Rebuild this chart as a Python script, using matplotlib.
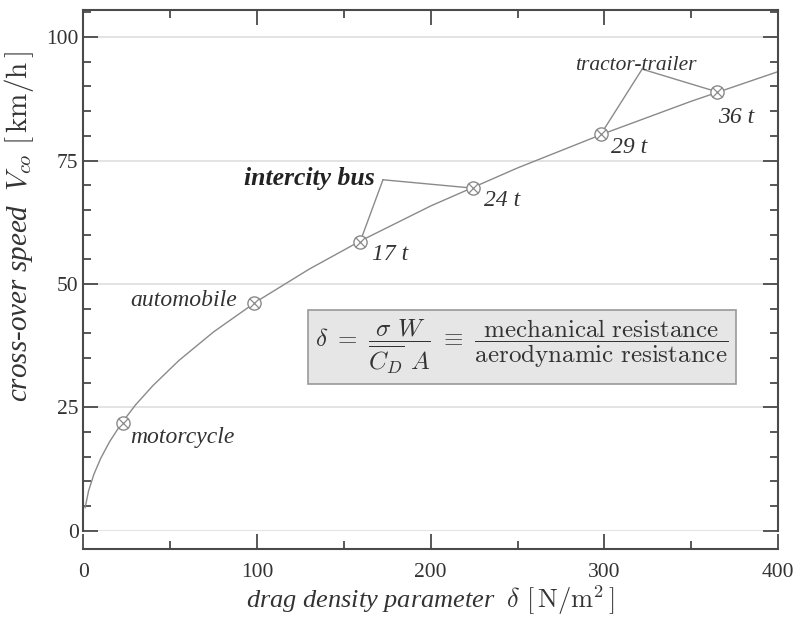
import numpy as np
import matplotlib
matplotlib.use("Agg")
import matplotlib.pyplot as plt
from matplotlib.ticker import MultipleLocator

plt.rcParams['font.family'] = ['Liberation Serif', 'DejaVu Serif']
plt.rcParams['mathtext.fontset'] = 'cm'

# curve: drag density delta [N/m^2] vs cross-over speed [km/h]
curve_delta = [1, 3, 6, 10, 15, 22, 30, 40, 55, 75, 100, 130, 160, 200, 250, 300, 350, 400]
curve_speed = [4.7, 8.1, 11.4, 14.7, 18.0, 21.8, 25.5, 29.4, 34.5, 40.3, 46.5,
               53.0, 58.8, 65.8, 73.5, 80.5, 87.0, 93.0]

# marked vehicles
veh_delta = [22.8, 98.2, 159.3, 224.4, 298.1, 364.9]
veh_speed = [21.9, 46.2, 58.5, 69.4, 80.4, 88.9]

weights = ['17 t', '24 t', '29 t', '36 t']
weight_pos = [(166.2, 55.9), (230.7, 67.0), (303.9, 77.7), (365.5, 83.8)]

line_col = '#8a8a8a'
axis_col = '#4a4a4a'
txt_col = '#333333'

fig = plt.figure(figsize=(7.94, 6.18), dpi=100)
ax = fig.add_axes([0.105, 0.141, 0.875, 0.843])

for g in [0, 25, 50, 75, 100]:
    ax.axhline(g, color='#dedede', lw=1.2, zorder=0)

ax.plot(curve_delta, curve_speed, color=line_col, lw=1.0, zorder=2)

# leader lines
bus_v = (172.5, 71.1)
trk_v = (321.7, 93.5)
for i in [2, 3]:
    ax.plot([bus_v[0], veh_delta[i]], [bus_v[1], veh_speed[i]], color=line_col, lw=1.0, zorder=2)
for i in [4, 5]:
    ax.plot([trk_v[0], veh_delta[i]], [trk_v[1], veh_speed[i]], color=line_col, lw=1.0, zorder=2)

ax.plot(veh_delta, veh_speed, 'o', ms=9.5, mfc='white', mec=line_col, mew=1.0, zorder=3)
ax.plot(veh_delta, veh_speed, 'x', ms=6.5, color=line_col, mew=0.9, zorder=4)

ax.text(26.8, 19.0, 'motorcycle', style='italic', fontsize=17, color=txt_col, va='center', ha='left')
ax.text(88.4, 46.6, 'automobile', style='italic', fontsize=17, color=txt_col, va='center', ha='right')
ax.text(168.0, 71.3, 'intercity bus', style='italic', weight='bold', fontsize=18.5, color='#222222',
        va='center', ha='right')
ax.text(353.0, 94.3, 'tractor-trailer', style='italic', fontsize=15.5, color=txt_col, va='center', ha='right')
for lab, (x, y) in zip(weights, weight_pos):
    ax.text(x, y, lab, style='italic', fontsize=17, color=txt_col, va='center', ha='left')

formula = (r'$\delta\ =\ \dfrac{\sigma\ W}{\overline{C_D}\ A}\ \equiv\ '
           r'\dfrac{\mathrm{mechanical\ resistance}}{\mathrm{aerodynamic\ resistance}}$')
ax.text(252.3, 37.2, formula, fontsize=18, color=txt_col, ha='center', va='center',
        bbox=dict(boxstyle='square,pad=0.3', fc='#e6e6e6', ec='#999999', lw=1.2))

ax.set_xlim(0, 400)
ax.set_ylim(0, 105.5)
ax.xaxis.set_major_locator(MultipleLocator(100))
ax.xaxis.set_minor_locator(MultipleLocator(50))
ax.yaxis.set_major_locator(MultipleLocator(25))
ax.yaxis.set_minor_locator(MultipleLocator(5))

ax.spines['bottom'].set_position(('outward', 13))
for s in ax.spines.values():
    s.set_color(axis_col)
    s.set_linewidth(1.5)

ax.tick_params(which='both', direction='in', top=True, right=True, color=axis_col, width=1.3,
               labelsize=15.5, labelcolor=txt_col)
ax.tick_params(which='major', length=10.5)
ax.tick_params(which='minor', length=5.5)
ax.tick_params(axis='x', which='major', pad=10)

ax.set_xlabel(r'drag density parameter  $\delta\ [\,\mathrm{N/m^2}\,]$', style='italic',
              fontsize=19, color=txt_col, labelpad=1)
ax.set_ylabel(r'cross-over speed  $V_{co}\ [\,\mathrm{km/h}\,]$', style='italic',
              fontsize=21, color=txt_col)
ax.yaxis.set_label_coords(-0.068, 0.585)

fig.savefig('out.png', dpi=100)
